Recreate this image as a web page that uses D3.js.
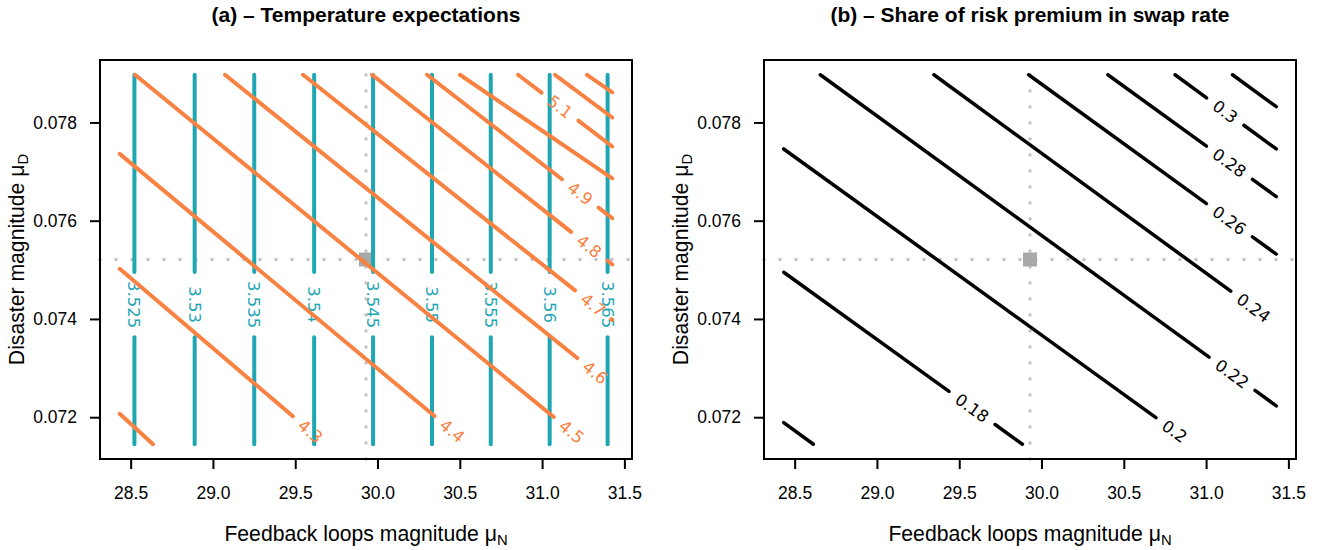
<!DOCTYPE html>
<html>
  <head>
    <meta charset="utf-8"/>
    <title>Temperature expectations and risk premium share</title>
    <style type="text/css">
body {
  margin: 0;
  background: #fff;
}
text {
  font-family: "Liberation Sans", Arial, sans-serif;
  fill: #000;
}
.clab {
  font-family: "DejaVu Sans", sans-serif;
  font-size: 16.5px;
}
    </style>
  </head>
  <body>
    <div id="chart"></div>

    <script src="https://cdn.jsdelivr.net/npm/d3@7"></script>
    <script>
    // calibrated point and the +-5% grid around it
    const muN0 = 29.93, muD0 = 0.07521;
    const nRange = [28.4335, 31.4265];
    const dRange = [0.07145, 0.07897];

    const xTicks = [28.5, 29.0, 29.5, 30.0, 30.5, 31.0, 31.5];
    const yTicks = [0.072, 0.074, 0.076, 0.078];

    // panel (a), teal contours (vertical)
    const tealLevels = [3.525, 3.53, 3.535, 3.54, 3.545, 3.55, 3.555, 3.56, 3.565];
    const tealX = [28.523, 28.889, 29.251, 29.615, 29.973, 30.331, 30.688, 31.046, 31.398];
    const tealLabelY = 0.07429;

    // panel (a), orange contours
    const orangeLevels = [4.2, 4.3, 4.4, 4.5, 4.6, 4.7, 4.8, 4.9, 5.0, 5.1, 5.2, 5.3];
    const orangeFrom = [[28.4335, 0.07207], [28.4335, 0.07502], [28.4335, 0.07736], [28.5265, 0.07897],
      [29.0733, 0.07897], [29.5472, 0.07897], [29.9665, 0.07897], [30.3007, 0.07897],
      [30.5008, 0.07897], [30.8536, 0.07897], [31.0784, 0.07897], [31.2728, 0.07897]];
    const orangeTo = [[28.6358, 0.07145], [29.6852, 0.07145], [30.5516, 0.07145], [31.2728, 0.07145],
      [31.4265, 0.07263], [31.4265, 0.07398], [31.4265, 0.07511], [31.4265, 0.07605],
      [31.4265, 0.07686], [31.4265, 0.07751], [31.4265, 0.07810], [31.4265, 0.07861]];
    const orangeLabelAt = [null, 0.926, 0.954, 0.966, 0.956, 0.938, 0.904, 0.827, null, 0.445, null, null];

    // panel (b), share of risk premium
    const riskLevels = [0.16, 0.18, 0.2, 0.22, 0.24, 0.26, 0.28, 0.3, 0.32];
    const riskFrom = [[28.4335, 0.07189], [28.4335, 0.07495], [28.4335, 0.07746], [28.6559, 0.07897],
      [29.3461, 0.07897], [29.9215, 0.07897], [30.4027, 0.07897], [30.8111, 0.07897], [31.1605, 0.07897]];
    const riskTo = [[28.6140, 0.07145], [29.8839, 0.07145], [30.9186, 0.07145], [31.4265, 0.07223],
      [31.4265, 0.07389], [31.4265, 0.07532], [31.4265, 0.07649], [31.4265, 0.07746], [31.4265, 0.07832]];
    const riskLabelAt = [null, 0.789, 0.956, 0.903, 0.934, 0.811, 0.722, 0.496, null];

    const teal = "#1fa6b3", orange = "#f98141";

    const svg = d3.select("#chart").append("svg")
        .attr("width", 1320)
        .attr("height", 550);

    function panel(left, title) {
      const top = 60, bottom = 459, right = left + 532;
      const padN = 0.04 * (nRange[1] - nRange[0]);
      const padD = 0.04 * (dRange[1] - dRange[0]);
      const x = d3.scaleLinear().domain([nRange[0] - padN, nRange[1] + padN]).range([left, right]);
      const y = d3.scaleLinear().domain([dRange[0] - padD, dRange[1] + padD]).range([bottom, top]);
      const g = svg.append("g");

      // dotted lines through the calibrated point
      g.append("line")
       .attr("x1", x(muN0)).attr("x2", x(muN0))
       .attr("y1", bottom).attr("y2", top)
       .attr("stroke", "#c2c2c2").attr("stroke-width", 3.5)
       .attr("stroke-linecap", "round").attr("stroke-dasharray", "0 16");
      g.append("line")
       .attr("x1", left).attr("x2", right)
       .attr("y1", y(muD0)).attr("y2", y(muD0))
       .attr("stroke", "#c2c2c2").attr("stroke-width", 3.5)
       .attr("stroke-linecap", "round").attr("stroke-dasharray", "0 16");
      g.append("rect")
       .attr("x", x(muN0) - 7).attr("y", y(muD0) - 7)
       .attr("width", 14).attr("height", 14)
       .attr("fill", "#a9a9a9");

      g.append("text")
       .attr("x", (left + right) / 2).attr("y", 22)
       .attr("text-anchor", "middle")
       .attr("font-weight", "bold")
       .attr("font-size", 21)
       .text(title);

      const xAxis = g.append("g")
          .attr("transform", `translate(0,${bottom})`)
          .call(d3.axisBottom(x).tickValues(xTicks).tickFormat(d3.format(".1f")).tickSize(10).tickPadding(18));
      const yAxis = g.append("g")
          .attr("transform", `translate(${left},0)`)
          .call(d3.axisLeft(y).tickValues(yTicks).tickFormat(d3.format(".3f")).tickSize(10).tickPadding(13));
      [xAxis, yAxis].forEach(a => {
        a.select(".domain").remove();
        a.attr("font-family", null).attr("font-size", 17.5);
        a.selectAll(".tick line").attr("stroke-width", 2);
      });

      const xl = g.append("text")
       .attr("x", (left + right) / 2).attr("y", 541)
       .attr("text-anchor", "middle")
       .attr("font-size", 21.2)
       .text("Feedback loops magnitude \u03bc");
      xl.append("tspan").attr("font-size", "0.7em").attr("dy", "0.25em").text("N");

      const yl = g.append("text")
       .attr("transform", `translate(${left - 76},${(top + bottom) / 2}) rotate(-90)`)
       .attr("text-anchor", "middle")
       .attr("font-size", 21.2)
       .text("Disaster magnitude \u03bc");
      yl.append("tspan").attr("font-size", "0.7em").attr("dy", "0.25em").text("D");

      return {g, x, y, left, top, right, bottom};
    }

    // contour lines with the label sitting in a gap cut into the line
    function contours(p, lines, color, lw, pad, uniform) {
      const g = p.g.append("g");
      let maxW = 0;
      lines.forEach(c => {
        if (c.at == null) return;
        c.node = g.append("text")
          .attr("class", "clab")
          .attr("text-anchor", "middle")
          .attr("dy", "0.36em")
          .style("fill", color)
          .text(c.level);
        c.w = c.node.node().getComputedTextLength();
        maxW = Math.max(maxW, c.w);
      });
      lines.forEach(c => {
        const x0 = p.x(c.from[0]), y0 = p.y(c.from[1]);
        const x1 = p.x(c.to[0]), y1 = p.y(c.to[1]);
        const len = Math.hypot(x1 - x0, y1 - y0);
        const ux = (x1 - x0) / len, uy = (y1 - y0) / len;
        let pieces = [[0, len]];
        if (c.at != null) {
          const m = c.at * len, h = (uniform ? maxW : c.w) / 2 + pad;
          pieces = [[0, m - h], [m + h, len]];
          c.node.attr("transform",
            `translate(${x0 + ux * m},${y0 + uy * m}) rotate(${Math.atan2(uy, ux) * 180 / Math.PI})`);
        }
        pieces.filter(s => s[1] - s[0] > 0.5).forEach(s => {
          g.append("line")
           .attr("x1", x0 + ux * s[0]).attr("y1", y0 + uy * s[0])
           .attr("x2", x0 + ux * s[1]).attr("y2", y0 + uy * s[1])
           .attr("stroke", color)
           .attr("stroke-width", lw)
           .attr("stroke-linecap", "round");
        });
      });
    }

    function frame(p) {
      p.g.append("rect")
       .attr("x", p.left).attr("y", p.top)
       .attr("width", p.right - p.left).attr("height", p.bottom - p.top)
       .attr("fill", "none")
       .attr("stroke", "#000")
       .attr("stroke-width", 2);
    }

    // (a)
    const pa = panel(100, "(a) \u2013 Temperature expectations");
    contours(pa, tealLevels.map((v, i) => ({
      level: v, from: [tealX[i], dRange[1]], to: [tealX[i], dRange[0]],
      at: (dRange[1] - tealLabelY) / (dRange[1] - dRange[0])
    })), teal, 4, 9, true);
    contours(pa, orangeLevels.map((v, i) => ({
      level: v, from: orangeFrom[i], to: orangeTo[i], at: orangeLabelAt[i]
    })), orange, 4, 10, false);
    frame(pa);

    // (b)
    const pb = panel(764, "(b) \u2013 Share of risk premium in swap rate");
    contours(pb, riskLevels.map((v, i) => ({
      level: v, from: riskFrom[i], to: riskTo[i], at: riskLabelAt[i]
    })), "#000", 3.5, 10, false);
    frame(pb);
    </script>
  </body>
</html>
